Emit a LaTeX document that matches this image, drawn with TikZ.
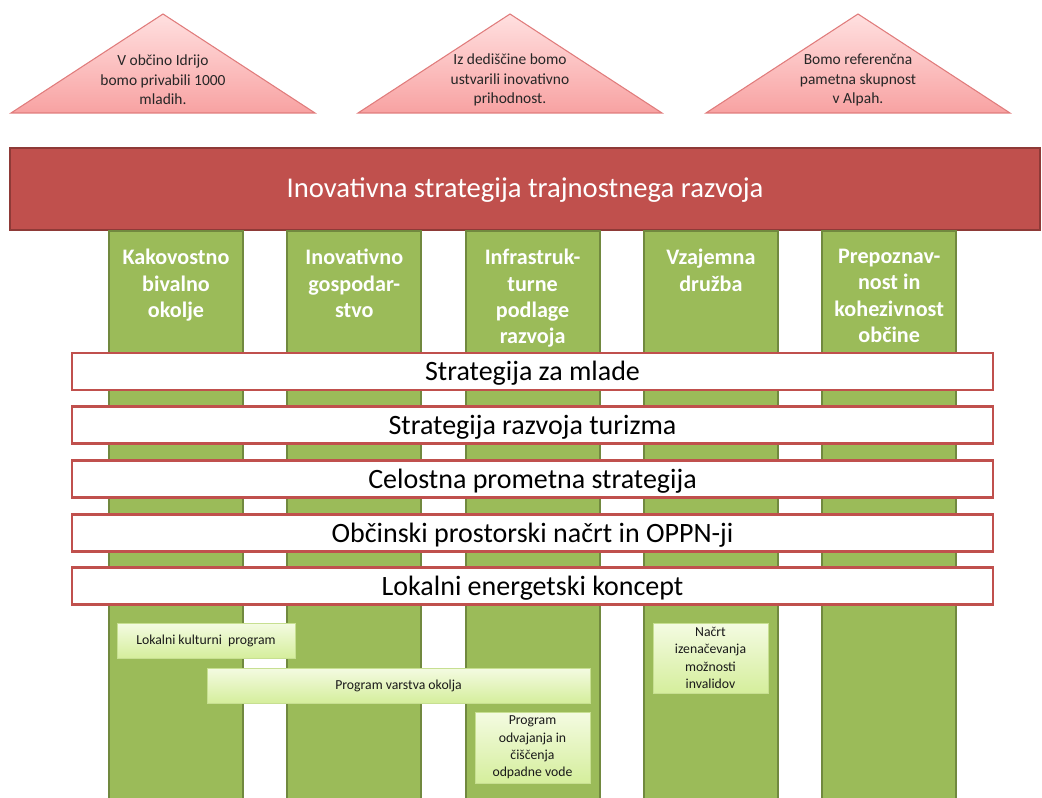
\documentclass[tikz,border=0pt]{standalone}
\usepackage{fontspec}
\setmainfont{Carlito}
\usetikzlibrary{shadows}

\definecolor{bannerred}{HTML}{C0504D}
\definecolor{bannerdark}{HTML}{8E3A37}
\definecolor{pillargreen}{HTML}{9BBB59}
\definecolor{pillardark}{HTML}{71893F}
\definecolor{rooftop}{HTML}{FFE0E0}
\definecolor{roofbot}{HTML}{F8A2A2}
\definecolor{roofline}{HTML}{E07C7C}
\definecolor{progtop}{HTML}{F4FBE2}
\definecolor{progbot}{HTML}{D5EE9C}
\definecolor{progline}{HTML}{C7DF91}

\tikzset{
  roof/.style={draw=roofline, line width=0.8pt, top color=rooftop, bottom color=roofbot},
  rooftext/.style={align=center, inner sep=0pt, text=black!85,
    font=\fontsize{11.6}{14.6}\selectfont},
  banner/.style={draw=bannerdark, line width=1.8pt, fill=bannerred, text=white,
    minimum width=772.5pt, minimum height=61.5pt, inner sep=0pt,
    text height=17pt, text depth=3.5pt, font=\fontsize{21.5}{25}\selectfont},
  pillar/.style={fill=pillargreen, draw=pillardark, line width=1.5pt},
  pillartext/.style={align=center, inner sep=0pt, text=white,
    font=\fontsize{16.6}{19.7}\selectfont\bfseries},
  strat/.style={draw=bannerred, line width=1.6pt, fill=white,
    minimum width=690.75pt, minimum height=27.75pt, inner sep=0pt,
    text height=17pt, text depth=3.5pt, font=\fontsize{21}{24}\selectfont},
  prog/.style={draw=progline, line width=0.6pt, top color=progtop, bottom color=progbot,
    align=center, inner sep=0pt, text=black!90, font=\fontsize{10.3}{13}\selectfont,
    drop shadow={opacity=0.35, shadow xshift=1pt, shadow yshift=-1pt}},
}

\begin{document}
\begin{tikzpicture}[x=0.75pt, y=-0.75pt]
  \useasboundingbox (0,0) rectangle (1042,798);

  % three goals on the roof
  \foreach \cx/\txt [count=\n] in {163/{V občino Idrijo\\bomo privabili 1000\\mladih.},
      510/{Iz dediščine bomo\\ustvarili inovativno\\prihodnost.},
      858/{Bomo referenčna\\pametna skupnost\\v Alpah.}} {
    \shade[roof] (\cx-152,113) -- (\cx,14) -- (\cx+152,113) -- cycle;
    \node[rooftext] (goal\n) at (\cx,80) {\txt};
  }

  \node[banner] (banner) at (525,189) {Inovativna strategija trajnostnega razvoja};

  % pillars
  \foreach \txt [count=\n] in {Kakovostno\\bivalno\\okolje, Inovativno\\gospodar-\\stvo,
      Infrastruk-\\turne\\podlage\\razvoja, Vzajemna\\družba,
      Prepoznav-\\nost in\\kohezivnost\\občine} {
    \draw[pillar] (176+178.3*\n-178.3-67,231) rectangle (176+178.3*\n-178.3+67,820);
    \node[pillartext, anchor=north] (pil\n) at (176+178.3*\n-178.3,249) {\txt};
  }

  % strategies across the pillars
  \foreach \yy/\txt [count=\n] in {371.5/Strategija za mlade,
      425/Strategija razvoja turizma, 479/Celostna prometna strategija,
      533/Občinski prostorski načrt in OPPN-ji, 586/Lokalni energetski koncept} {
    \node[strat] (strat\n) at (532.5,\yy) {\txt};
  }

  % programmes
  \node[prog, minimum width=133.5pt, minimum height=26.25pt] (kult) at (206,640.5)
    {Lokalni kulturni\ \ program};
  \node[prog, minimum width=287.25pt, minimum height=26.25pt] (okol) at (398.5,685.5)
    {Program varstva okolja};
  \node[prog, minimum width=86.25pt, minimum height=53.25pt] (voda) at (532.5,747.5)
    {Program\\odvajanja in\\čiščenja\\odpadne vode};
  \node[prog, minimum width=86.25pt, minimum height=52.5pt] (inv) at (710.5,658)
    {Načrt\\izenačevanja\\možnosti\\invalidov};
\end{tikzpicture}
\end{document}
